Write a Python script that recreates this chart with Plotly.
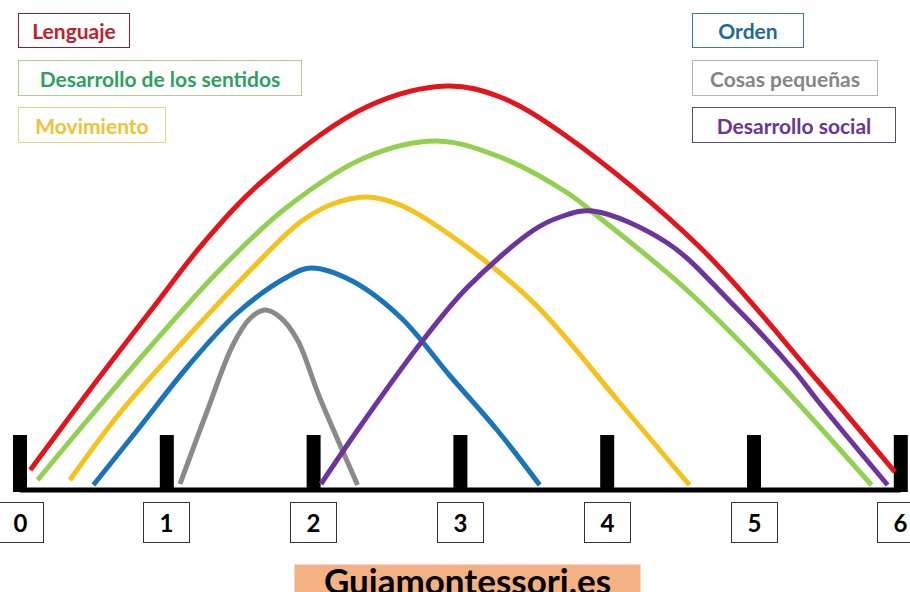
import plotly.graph_objects as go

# ---------------- data (ages in years, intensity = height above baseline) ----------------
ages = [0, 1, 2, 3, 4, 5, 6]
age_labels = ["0", "1", "2", "3", "4", "5", "6"]

lenguaje_x = [0.07, 0.46, 0.91, 1.25, 1.66, 2.36, 2.91, 3.27, 3.73, 4.63, 5.43, 5.96]
lenguaje_y = [20, 97, 183, 247, 310, 383, 404, 393, 353, 243, 110, 18]

sentidos_x = [0.12, 0.46, 0.91, 1.36, 1.82, 2.36, 2.84, 3.27, 3.73, 3.95, 4.52, 5.09, 5.80]
sentidos_y = [10, 70, 147, 220, 283, 333, 349, 333, 297, 272, 203, 120, 5]

movimiento_x = [0.34, 0.68, 1.14, 1.59, 1.91, 2.13, 2.36, 2.59, 2.93, 3.50, 4.07, 4.56]
movimiento_y = [10, 77, 153, 223, 268, 286, 293, 285, 255, 187, 90, 5]

orden_x = [0.50, 0.80, 1.14, 1.48, 1.82, 1.98, 2.25, 2.59, 2.93, 3.25, 3.54]
orden_y = [5, 60, 123, 177, 213, 222, 210, 173, 114, 60, 5]

pequenas_x = [1.09, 1.27, 1.45, 1.57, 1.67, 1.77, 1.89, 2.04, 2.30]
pequenas_y = [6, 77, 145, 172, 180, 173, 150, 93, 5]

social_x = [2.05, 2.30, 2.73, 3.05, 3.50, 3.68, 3.90, 4.41, 4.84, 5.27, 5.43, 5.91]
social_y = [6, 60, 147, 203, 260, 273, 279, 247, 188, 120, 90, 5]

series_names = ["Lenguaje", "Desarrollo de los sentidos", "Movimiento",
                "Orden", "Cosas pequeñas", "Desarrollo social"]
series_x = [lenguaje_x, sentidos_x, movimiento_x, orden_x, pequenas_x, social_x]
series_y = [lenguaje_y, sentidos_y, movimiento_y, orden_y, pequenas_y, social_y]

title_text = "Guiamontessori.es"

# ---------------- styles ----------------
W, H = 910, 592
line_colors = ["#E4141C", "#92D050", "#F5C21B", "#1A74B8", "#8A8A8A", "#6E349E"]
text_colors = ["#C0202A", "#2EA060", "#F0C232", "#1F6A96", "#858585", "#6A3595"]
border_colors = ["#8B2228", "#A9D18E", "#EED57A", "#3A7E9E", "#B5B5B5", "#5E4C80"]
legend_boxes = [  # left, top, width, height in pixels
    (18, 13, 112, 35), (18, 60, 284, 36), (18, 107, 148, 36),
    (692, 13, 112, 35), (692, 60, 186, 36), (692, 107, 204, 36),
]
FONT = "Lato, 'Open Sans', sans-serif"

px_per_year = 146.8
x0_px = 20
base_px = 490

fig = go.Figure()

for name, xs, ys, col in zip(series_names, series_x, series_y, line_colors):
    fig.add_trace(go.Scatter(
        x=xs, y=ys, mode="lines", name=name,
        line=dict(color=col, width=5, shape="spline", smoothing=1.0),
        hoverinfo="name", showlegend=False,
    ))

shapes = []
shapes.append(dict(type="line", xref="x", yref="y", x0=ages[0], x1=ages[-1], y0=0, y1=0,
                   line=dict(color="black", width=5), layer="below"))
for a in ages:
    shapes.append(dict(type="rect", xref="x", yref="y", xsizemode="pixel", xanchor=a,
                       x0=-7, x1=7, y0=-2, y1=55, fillcolor="black",
                       line=dict(width=0), layer="below"))

annotations = []
for a, lab in zip(ages, age_labels):
    annotations.append(dict(
        x=a, y=-32, xref="x", yref="y", text=f"<b>{lab}</b>", showarrow=False,
        font=dict(family=FONT, size=24, color="black"),
        bordercolor="#333333", borderwidth=1, borderpad=0,
        width=45, height=39, bgcolor="white", xanchor="center", yanchor="middle",
    ))

for name, tc, bc, (l, t, w, h) in zip(series_names, text_colors, border_colors, legend_boxes):
    annotations.append(dict(
        x=l / W, y=1 - t / H, xref="paper", yref="paper", xanchor="left", yanchor="top",
        text=f"<b>{name}</b>", showarrow=False,
        font=dict(family=FONT, size=21, color=tc),
        bordercolor=bc, borderwidth=1, borderpad=0,
        width=w - 2, height=h - 2, align="center", bgcolor="white",
    ))

annotations.append(dict(
    x=294 / W, y=1 - 564 / H, xref="paper", yref="paper", xanchor="left", yanchor="top",
    text=f"<b>{title_text}</b>", showarrow=False,
    font=dict(family=FONT, size=35, color="black"),
    bgcolor="#F4B183", borderpad=0, width=345, height=30, align="center",
))

fig.update_layout(
    width=W, height=H, autosize=False,
    margin=dict(l=0, r=0, t=0, b=0),
    paper_bgcolor="white", plot_bgcolor="white",
    xaxis=dict(range=[-x0_px / px_per_year, (W - x0_px) / px_per_year], visible=False,
               fixedrange=True),
    yaxis=dict(range=[base_px - H, base_px], visible=False, fixedrange=True),
    shapes=shapes, annotations=annotations, showlegend=False,
)

fig.write_html(
    "out.html",
    config={"displayModeBar": False},
    post_script="document.body.style.margin='0';document.body.style.overflow='hidden';",
)
